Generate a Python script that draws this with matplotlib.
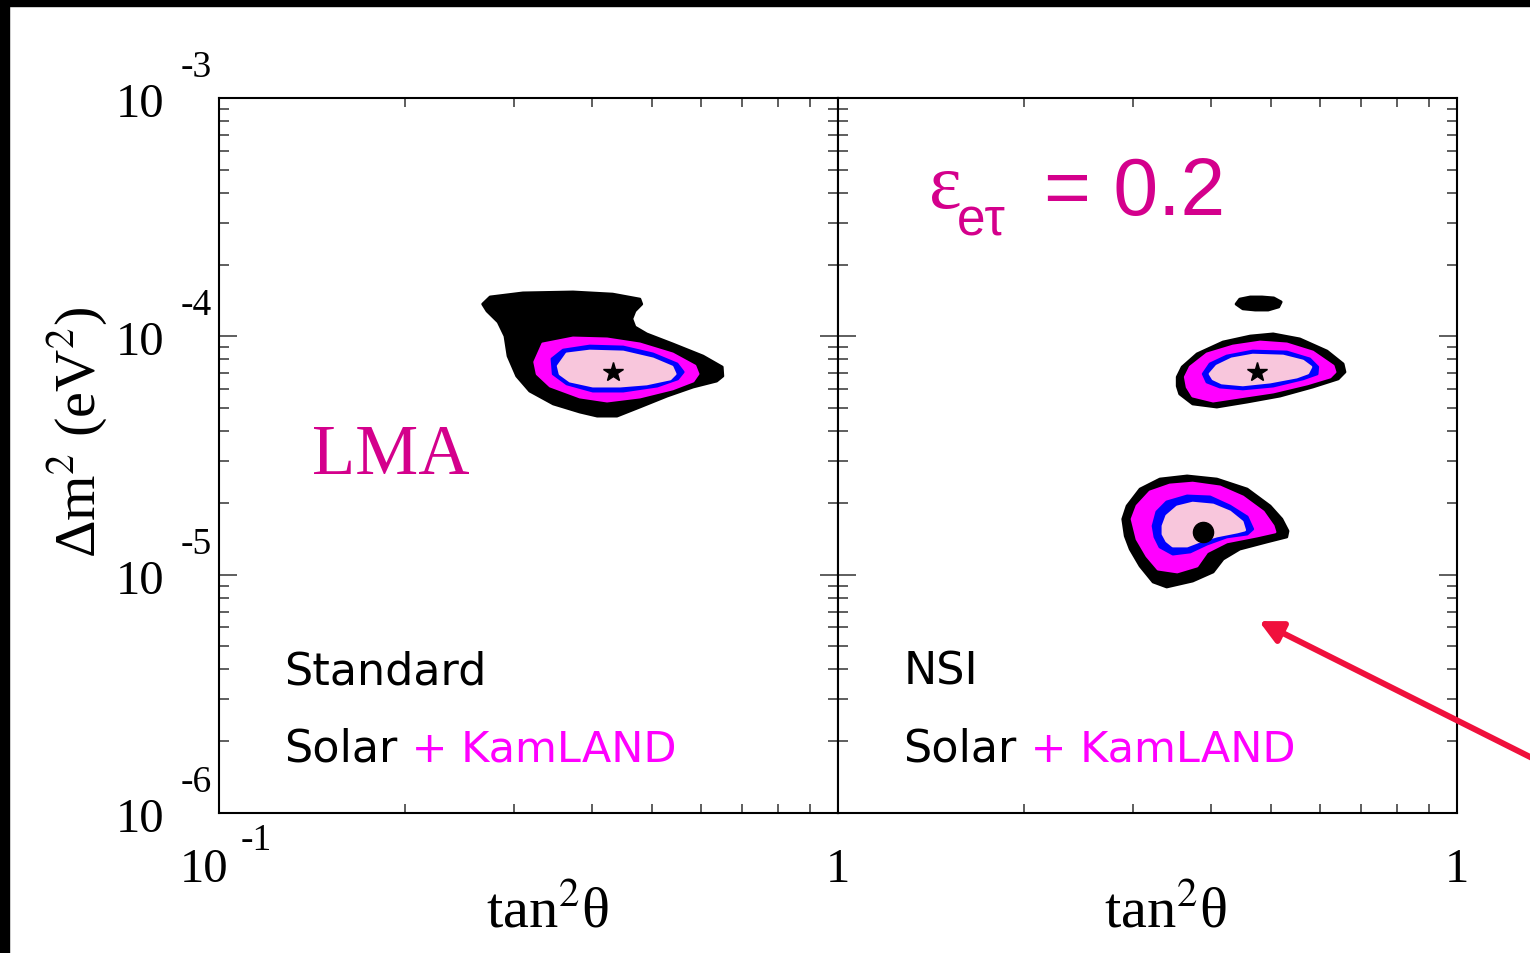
"""
Allowed regions in (tan^2 theta, Delta m^2): standard vs NSI (eps_etau = 0.2),
Solar + KamLAND. Filled confidence regions, two panels sharing the y axis.
"""
import numpy as np
import matplotlib
matplotlib.use("Agg")
import matplotlib.pyplot as plt
from matplotlib.ticker import LogLocator, NullFormatter, FixedLocator
from matplotlib.patches import Rectangle

# --- region outlines (log10 tan^2, log10 dm^2 in eV^2) ---
# standard (LMA)
std_black_lt = [-0.574, -0.562, -0.509, -0.428, -0.364, -0.320, -0.317, -0.328, -0.333, -0.328,
                -0.309, -0.267, -0.218, -0.187, -0.186, -0.196, -0.234, -0.276, -0.320, -0.357,
                -0.389, -0.417, -0.460, -0.498, -0.519, -0.533, -0.538, -0.549, -0.567]
std_black_ldm = [-3.865, -3.835, -3.818, -3.814, -3.823, -3.844, -3.865, -3.894, -3.927, -3.961,
                 -3.990, -4.032, -4.083, -4.129, -4.167, -4.188, -4.213, -4.251, -4.297, -4.335,
                 -4.335, -4.318, -4.284, -4.230, -4.167, -4.083, -3.999, -3.940, -3.894]
std_mag_lt = [-0.490, -0.477, -0.428, -0.373, -0.320, -0.267, -0.231, -0.226, -0.234, -0.267,
              -0.320, -0.373, -0.417, -0.465, -0.486]
std_mag_ldm = [-4.108, -4.032, -4.007, -4.011, -4.032, -4.074, -4.125, -4.158, -4.188, -4.221,
               -4.255, -4.272, -4.255, -4.209, -4.158]
std_blue_lt = [-0.462, -0.444, -0.401, -0.347, -0.299, -0.260, -0.250, -0.259, -0.292, -0.347,
               -0.396, -0.438, -0.460]
std_blue_ldm = [-4.095, -4.058, -4.041, -4.045, -4.074, -4.116, -4.150, -4.179, -4.209, -4.230,
                -4.230, -4.200, -4.158]
std_pink_lt = [-0.452, -0.438, -0.401, -0.347, -0.299, -0.268, -0.263, -0.271, -0.309, -0.352,
               -0.396, -0.433, -0.449]
std_pink_ldm = [-4.125, -4.074, -4.062, -4.066, -4.095, -4.129, -4.158, -4.179, -4.200, -4.209,
                -4.209, -4.188, -4.158]
std_best = (-0.364, -4.150)

# NSI: small 3 sigma island
nsi_island_lt = [-0.357, -0.351, -0.334, -0.315, -0.296, -0.284, -0.288, -0.305, -0.326, -0.346]
nsi_island_ldm = [-3.865, -3.844, -3.835, -3.835, -3.839, -3.856, -3.877, -3.890, -3.890, -3.885]

# NSI: upper solution
nsi_a_black_lt = [-0.452, -0.444, -0.420, -0.378, -0.334, -0.297, -0.254, -0.210, -0.184, -0.181,
                  -0.192, -0.233, -0.286, -0.339, -0.388, -0.427, -0.448, -0.452]
nsi_a_black_ldm = [-4.171, -4.129, -4.074, -4.024, -3.999, -3.990, -4.011, -4.062, -4.116, -4.150,
                   -4.179, -4.213, -4.251, -4.276, -4.297, -4.284, -4.242, -4.209]
nsi_a_mag_lt = [-0.439, -0.431, -0.404, -0.362, -0.318, -0.275, -0.233, -0.200, -0.197, -0.205,
                -0.242, -0.297, -0.351, -0.394, -0.427, -0.436]
nsi_a_mag_ldm = [-4.171, -4.129, -4.074, -4.041, -4.024, -4.032, -4.066, -4.125, -4.150, -4.171,
                 -4.200, -4.234, -4.255, -4.272, -4.251, -4.213]
nsi_a_blue_lt = [-0.410, -0.399, -0.372, -0.330, -0.275, -0.238, -0.225, -0.226, -0.249, -0.297,
                 -0.346, -0.383, -0.404]
nsi_a_blue_ldm = [-4.158, -4.116, -4.083, -4.062, -4.066, -4.095, -4.129, -4.158, -4.179, -4.209,
                  -4.221, -4.213, -4.192]
nsi_a_pink_lt = [-0.399, -0.388, -0.364, -0.330, -0.281, -0.249, -0.236, -0.241, -0.259, -0.302,
                 -0.346, -0.380, -0.394]
nsi_a_pink_ldm = [-4.158, -4.125, -4.095, -4.079, -4.083, -4.104, -4.129, -4.154, -4.171, -4.192,
                  -4.204, -4.196, -4.179]
nsi_best = (-0.323, -4.150)

# NSI: lower (LMA-0 like) solution
nsi_b_black_lt = [-0.540, -0.533, -0.512, -0.480, -0.436, -0.388, -0.339, -0.302, -0.283, -0.273,
                  -0.275, -0.307, -0.351, -0.378, -0.394, -0.427, -0.469, -0.491, -0.512, -0.528,
                  -0.536]
nsi_b_black_ldm = [-4.767, -4.712, -4.641, -4.599, -4.586, -4.599, -4.641, -4.712, -4.767, -4.817,
                   -4.842, -4.863, -4.893, -4.935, -4.989, -5.027, -5.052, -5.031, -4.964, -4.893,
                   -4.838]
nsi_b_mag_lt = [-0.525, -0.517, -0.496, -0.464, -0.427, -0.383, -0.346, -0.313, -0.297, -0.294,
                -0.323, -0.372, -0.404, -0.420, -0.452, -0.483, -0.501, -0.517]
nsi_b_mag_ldm = [-4.767, -4.712, -4.653, -4.624, -4.616, -4.632, -4.674, -4.737, -4.796, -4.821,
                 -4.838, -4.863, -4.905, -4.964, -4.989, -4.977, -4.922, -4.851]
nsi_b_blue_lt = [-0.491, -0.485, -0.469, -0.436, -0.399, -0.367, -0.339, -0.330, -0.339, -0.372,
                 -0.404, -0.431, -0.459, -0.480, -0.488]
nsi_b_blue_ldm = [-4.796, -4.737, -4.695, -4.670, -4.674, -4.712, -4.758, -4.809, -4.830, -4.842,
                  -4.872, -4.905, -4.914, -4.884, -4.842]
nsi_b_pink_lt = [-0.475, -0.469, -0.452, -0.427, -0.394, -0.367, -0.347, -0.343, -0.355, -0.388,
                 -0.415, -0.436, -0.459, -0.469, -0.475]
nsi_b_pink_ldm = [-4.796, -4.754, -4.716, -4.700, -4.708, -4.737, -4.779, -4.813, -4.821, -4.838,
                  -4.859, -4.880, -4.880, -4.859, -4.830]
nsi_dot = (-0.410, -4.821)

# arrow tip (points at the lower NSI solution)
arrow_tip = (-0.320, -5.195)

y_decades = [-3, -4, -5, -6]

BLACK = "black"
MAGENTA = "#ff00ff"
BLUE = "#0000ff"
PINK = "#f8c6dc"
TXT_MAG = "#d4008c"
ARROW = "#f0103c"


def fill_region(ax, lt, ldm, color):
    ax.fill(10 ** np.asarray(lt), 10 ** np.asarray(ldm), facecolor=color,
            edgecolor=color, linewidth=2, joinstyle="round", zorder=2)


def style_axes(ax):
    ax.set_xscale("log")
    ax.set_yscale("log")
    ax.set_xlim(0.1, 1)
    ax.set_ylim(1e-6, 1e-3)
    ax.xaxis.set_major_locator(FixedLocator([0.1, 1.0]))
    ax.xaxis.set_minor_locator(LogLocator(base=10, subs=np.arange(2, 10)))
    ax.yaxis.set_major_locator(LogLocator(base=10))
    ax.yaxis.set_minor_locator(LogLocator(base=10, subs=np.arange(2, 10)))
    for axis in (ax.xaxis, ax.yaxis):
        axis.set_minor_formatter(NullFormatter())
    ax.tick_params(which="both", direction="in", top=True, right=True,
                   labelleft=False, labelbottom=False, color="#333333", width=1.1)
    ax.tick_params(axis="y", which="major", length=13)
    ax.tick_params(axis="y", which="minor", length=7)
    ax.tick_params(axis="x", which="both", length=6.5)
    for sp in ax.spines.values():
        sp.set_linewidth(1.5)


def main():
    plt.rcParams.update({
        "font.family": "Liberation Serif",
        "mathtext.fontset": "stix",
    })

    fig = plt.figure(figsize=(15.3, 9.54), dpi=100)
    ax1 = fig.add_axes([0.1431, 0.1468, 0.4046, 0.7495])
    ax2 = fig.add_axes([0.5477, 0.1468, 0.4046, 0.7495])

    # black frame strips of the slide
    fig.patches.append(Rectangle((0, 0), 0.006, 1, transform=fig.transFigure,
                                 color="black", zorder=10))
    fig.patches.append(Rectangle((0, 0.993), 1, 0.007, transform=fig.transFigure,
                                 color="black", zorder=10))

    for ax in (ax1, ax2):
        style_axes(ax)

    # --- Left: standard ---
    fill_region(ax1, std_black_lt, std_black_ldm, BLACK)
    fill_region(ax1, std_mag_lt, std_mag_ldm, MAGENTA)
    fill_region(ax1, std_blue_lt, std_blue_ldm, BLUE)
    fill_region(ax1, std_pink_lt, std_pink_ldm, PINK)
    ax1.plot(10 ** std_best[0], 10 ** std_best[1], "*", color="black", ms=15, zorder=3)

    # --- Right: NSI ---
    fill_region(ax2, nsi_island_lt, nsi_island_ldm, BLACK)
    for blk, mag, blu, pnk in (
        ((nsi_a_black_lt, nsi_a_black_ldm), (nsi_a_mag_lt, nsi_a_mag_ldm),
         (nsi_a_blue_lt, nsi_a_blue_ldm), (nsi_a_pink_lt, nsi_a_pink_ldm)),
        ((nsi_b_black_lt, nsi_b_black_ldm), (nsi_b_mag_lt, nsi_b_mag_ldm),
         (nsi_b_blue_lt, nsi_b_blue_ldm), (nsi_b_pink_lt, nsi_b_pink_ldm)),
    ):
        fill_region(ax2, *blk, BLACK)
        fill_region(ax2, *mag, MAGENTA)
        fill_region(ax2, *blu, BLUE)
        fill_region(ax2, *pnk, PINK)
    ax2.plot(10 ** nsi_best[0], 10 ** nsi_best[1], "*", color="black", ms=15, zorder=3)
    ax2.plot(10 ** nsi_dot[0], 10 ** nsi_dot[1], "o", color="black", ms=14.5, zorder=3)

    # --- tick labels, ROOT style: "10" with detached exponent ---
    for e in y_decades:
        ax1.annotate("10", xy=(0, 10.0 ** e), xycoords=("axes fraction", "data"),
                     xytext=(-79, -18), textcoords="offset pixels",
                     ha="center", va="baseline", fontsize=35)
        ax1.annotate(f"-{abs(e)}", xy=(0, 10.0 ** e), xycoords=("axes fraction", "data"),
                     xytext=(-23, 22), textcoords="offset pixels",
                     ha="center", va="baseline", fontsize=27)
    ax1.annotate("10", xy=(0, 0), xycoords="axes fraction", xytext=(-15, -68),
                 textcoords="offset pixels", ha="center", va="baseline", fontsize=35)
    ax1.annotate("-1", xy=(0, 0), xycoords="axes fraction", xytext=(37, -36),
                 textcoords="offset pixels", ha="center", va="baseline", fontsize=27)
    for ax in (ax1, ax2):
        ax.annotate("1", xy=(1, 0), xycoords="axes fraction", xytext=(0, -68),
                    textcoords="offset pixels", ha="center", va="baseline", fontsize=35)

    # axis titles
    fig.text(0.3575, 0.0283, r"tan$^{2}$θ", ha="center", va="baseline", fontsize=42)
    fig.text(0.7614, 0.0283, r"tan$^{2}$θ", ha="center", va="baseline", fontsize=42)
    fig.text(0.051, 0.547, r"Δm$^{2}$ (eV$^{2}$)", rotation=90,
             ha="center", va="center", fontsize=42)

    # panel texts
    ax1.text(0.150, 0.4755, "LMA", transform=ax1.transAxes, color=TXT_MAG,
             fontsize=51, va="baseline")
    sans = "DejaVu Sans"
    for ax, name in ((ax1, "Standard"), (ax2, "NSI")):
        ax.text(0.106, 0.1804, name, transform=ax.transAxes, family=sans,
                fontsize=32, va="baseline")
        t = ax.text(0.106, 0.0727, "Solar", transform=ax.transAxes, family=sans,
                    fontsize=32, va="baseline")
        ax.annotate(" + KamLAND", xy=(1, 0), xycoords=t, family=sans, fontsize=31,
                    color=MAGENTA, ha="left", va="bottom")

    # epsilon_{e tau} = 0.2, built from three pieces
    ax2.text(0.1470, 0.8476, "ε", transform=ax2.transAxes, family="Liberation Serif",
             color=TXT_MAG, fontsize=56, va="baseline")
    ax2.text(0.1920, 0.8084, "eτ", transform=ax2.transAxes, family="Liberation Sans",
             color=TXT_MAG, fontsize=37, va="baseline")
    ax2.text(0.3330, 0.8378, "= 0.2", transform=ax2.transAxes, family="Liberation Sans",
             color=TXT_MAG, fontsize=58, va="baseline")

    # red arrow coming in from the right edge of the slide
    ax2.annotate("", xy=(10 ** arrow_tip[0], 10 ** arrow_tip[1]), xycoords="data",
                 xytext=(1.004, 0.2023), textcoords="figure fraction",
                 arrowprops=dict(arrowstyle="-|>", color=ARROW, lw=4.3,
                                 mutation_scale=34, shrinkA=0, shrinkB=0),
                 annotation_clip=False, zorder=5)

    fig.savefig("out.png", dpi=100)
    plt.close(fig)


if __name__ == "__main__":
    main()
